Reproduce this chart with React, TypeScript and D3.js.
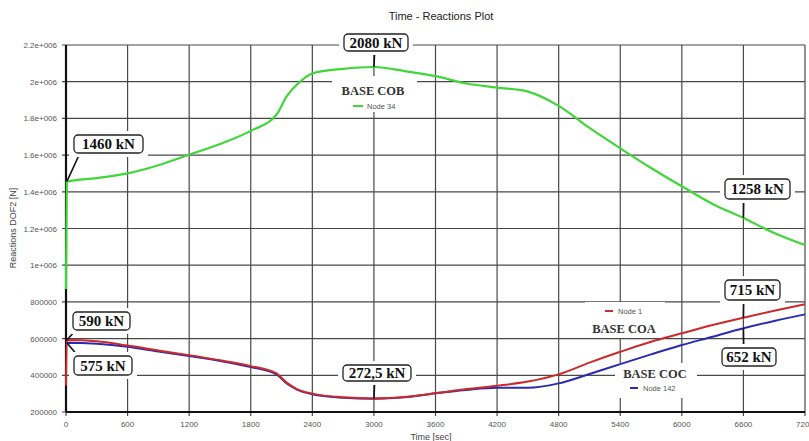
import * as d3 from 'd3';
import React from 'react';

// time [sec] sample points
const timeGreen = [0, 8, 300, 600, 900, 1200, 1500, 1800, 2050, 2150, 2280, 2400, 2700, 3000, 3300, 3600, 3900, 4200, 4500, 4800, 5100, 5400, 5700, 6000, 6300, 6600, 6900, 7200];
const node34 = [870000, 1455000, 1475000, 1500000, 1545000, 1602000, 1660000, 1732000, 1820000, 1920000, 2000000, 2045000, 2070000, 2080000, 2058000, 2030000, 1990000, 1968000, 1946000, 1868000, 1748000, 1637000, 1530000, 1430000, 1334000, 1257000, 1176000, 1110000];

const timeLow = [0, 8, 300, 600, 900, 1200, 1500, 1800, 2050, 2150, 2250, 2400, 2700, 3000, 3300, 3600, 3900, 4200, 4500, 4800, 5100, 5400, 5700, 6000, 6300, 6600, 6900, 7200];
const node1 = [345000, 592000, 585000, 562000, 535000, 510000, 482000, 450000, 410000, 360000, 325000, 300000, 280000, 274000, 282000, 302000, 325000, 343000, 366000, 405000, 469000, 528000, 583000, 629000, 674000, 714000, 752000, 787000];
const node142 = [565000, 577000, 572000, 556000, 530000, 505000, 478000, 445000, 405000, 355000, 322000, 297000, 278000, 272000, 280000, 302000, 320000, 332000, 332000, 356000, 407000, 461000, 514000, 565000, 610000, 656000, 696000, 732000];

const xTicks = [0, 600, 1200, 1800, 2400, 3000, 3600, 4200, 4800, 5400, 6000, 6600, 7200];
const yTicks = [200000, 400000, 600000, 800000, 1000000, 1200000, 1400000, 1600000, 1800000, 2000000, 2200000];
const yTickLabels = ['200000', '400000', '600000', '800000', '1e+006', '1.2e+006', '1.4e+006', '1.6e+006', '1.8e+006', '2e+006', '2.2e+006'];

// annotation callouts: text, anchor on the curve (data), box + leader start (pixels)
const callouts = [
  { text: '2080 kN', t: 3000, v: 2080000, bx: 344, by: 34, bw: 64, bh: 17, lx: 374.7, ly: 51 },
  { text: '1460 kN', t: 8, v: 1455000, bx: 74, by: 135, bw: 69, bh: 18, lx: 80, ly: 153 },
  { text: '1258 kN', t: 6600, v: 1257000, bx: 725, by: 179, bw: 65, bh: 20, lx: 743.7, ly: 199 },
  { text: '590 kN', t: 8, v: 592000, bx: 73, by: 312, bw: 57, bh: 18, lx: 76, ly: 330 },
  { text: '575 kN', t: 8, v: 577000, bx: 74, by: 356, bw: 58, bh: 19, lx: 78, ly: 356 },
  { text: '272,5 kN', t: 3000, v: 274000, bx: 343, by: 365, bw: 68, bh: 16, lx: 374.7, ly: 381 },
  { text: '715 kN', t: 6600, v: 714000, bx: 725, by: 280, bw: 55, bh: 20, lx: 743.7, ly: 300 },
  { text: '652 kN', t: 6600, v: 656000, bx: 722, by: 348, bw: 54, bh: 18, lx: 743.7, ly: 348 },
];

export default function App() {
  const width = 809;
  const height = 441;
  const left = 66;
  const right = 805;
  const top = 45;
  const bottom = 412;

  const x = d3.scaleLinear().domain([0, 7200]).range([left, right]);
  const y = d3.scaleLinear().domain([200000, 2200000]).range([bottom, top]);

  const line = (ts: number[], vs: number[]) =>
    d3.line<number>()
      .x((_, i) => x(ts[i]))
      .y(d => y(d))
      .curve(d3.curveMonotoneX)(vs) || '';

  const sans = 'Liberation Sans, Arial, sans-serif';
  const serif = 'Liberation Serif, Times New Roman, serif';

  return (
    <svg width={width} height={height} style={{ position: 'absolute', left: 0, top: 0, background: '#fff' }}>
      <text x={441} y={20} textAnchor="middle" fontFamily={sans} fontSize={11} fill="#222">Time - Reactions Plot</text>

      {/* grid */}
      {xTicks.map(t => (
        <line key={'gx' + t} x1={x(t)} x2={x(t)} y1={top} y2={bottom + 4} stroke="#484848" strokeWidth={1.2} />
      ))}
      {yTicks.map(v => (
        <line key={'gy' + v} x1={left - 4} x2={right} y1={y(v)} y2={y(v)} stroke="#484848" strokeWidth={1.2} />
      ))}

      {/* legend backgrounds */}
      <rect x={332} y={76} width={85} height={36} fill="#fff" />
      <rect x={585} y={302} width={80} height={36} fill="#fff" />
      <rect x={615} y={363} width={82} height={35} fill="#fff" />

      {/* axes */}
      <line x1={left} x2={left} y1={top} y2={bottom} stroke="#111" strokeWidth={2.2} />
      <line x1={left} x2={right} y1={bottom} y2={bottom} stroke="#111" strokeWidth={2.2} />

      {yTicks.map((v, i) => (
        <text key={'yl' + v} x={57} y={y(v) + 3} textAnchor="end" fontFamily={sans} fontSize={8} fill="#555">{yTickLabels[i]}</text>
      ))}
      {xTicks.map(t => (
        <text key={'xl' + t} x={x(t)} y={427} textAnchor="middle" fontFamily={sans} fontSize={8} fill="#555">{t}</text>
      ))}
      <text x={431} y={440} textAnchor="middle" fontFamily={sans} fontSize={9} fill="#444">Time [sec]</text>
      <text transform="translate(16,228) rotate(-90)" textAnchor="middle" fontFamily={sans} fontSize={9} fill="#444">Reactions DOF2 [N]</text>

      {/* curves */}
      <path d={line(timeGreen, node34)} fill="none" stroke="#3fd63a" strokeWidth={2.2} />
      <path d={line(timeLow, node142)} fill="none" stroke="#2b2bb0" strokeWidth={2} />
      <path d={line(timeLow, node1)} fill="none" stroke="#cc2a2a" strokeWidth={2} />

      {/* legends */}
      <text x={373} y={95} textAnchor="middle" fontFamily={serif} fontWeight="bold" fontSize={12.5} fill="#333">BASE COB</text>
      <line x1={353} x2={363} y1={106} y2={106} stroke="#3fd63a" strokeWidth={2} />
      <text x={367} y={109} fontFamily={sans} fontSize={7.5} fill="#555">Node 34</text>

      <text x={624} y={333} textAnchor="middle" fontFamily={serif} fontWeight="bold" fontSize={12.5} fill="#333">BASE COA</text>
      <line x1={605} x2={613} y1={311} y2={311} stroke="#cc2a2a" strokeWidth={2} />
      <text x={618} y={314} fontFamily={sans} fontSize={7.5} fill="#555">Node 1</text>

      <text x={655} y={378} textAnchor="middle" fontFamily={serif} fontWeight="bold" fontSize={12.5} fill="#333">BASE COC</text>
      <line x1={630} x2={638} y1={388} y2={388} stroke="#2b2bb0" strokeWidth={2} />
      <text x={643} y={391} fontFamily={sans} fontSize={7.5} fill="#555">Node 142</text>

      {/* callouts */}
      {callouts.map(c => (
        <g key={c.text}>
          <line x1={c.lx} y1={c.ly} x2={x(c.t)} y2={y(c.v)} stroke="#111" strokeWidth={1.6} />
          <rect x={c.bx - 5} y={c.by - 4} width={c.bw + 10} height={c.bh + 8} fill="#fff" />
          <rect x={c.bx} y={c.by} width={c.bw} height={c.bh} rx={4} fill="#fff" stroke="#222" strokeWidth={1.3} />
          <text x={c.bx + c.bw / 2} y={c.by + c.bh / 2 + 5} textAnchor="middle" fontFamily={serif} fontWeight="bold" fontSize={15} fill="#111">{c.text}</text>
        </g>
      ))}
    </svg>
  );
}
